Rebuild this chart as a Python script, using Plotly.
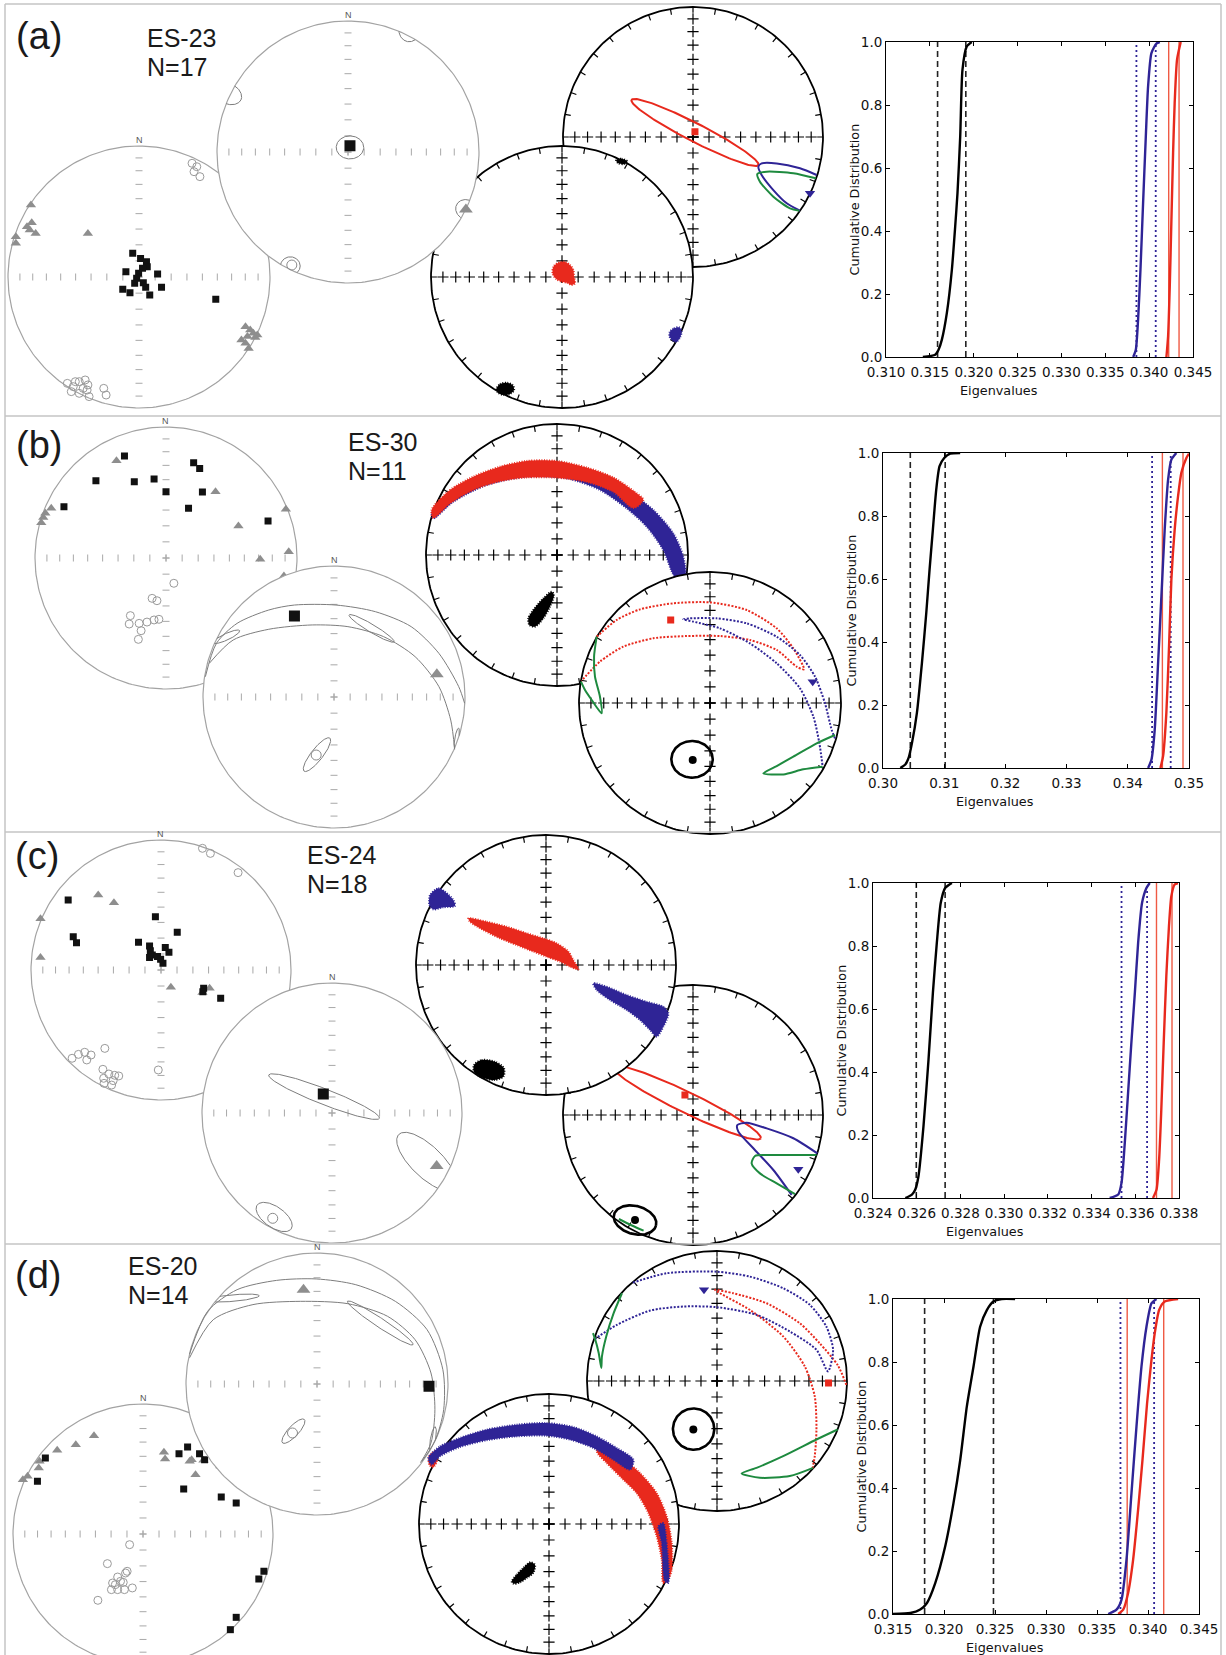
import numpy as np
import plotly.graph_objects as go

W, H = 1226, 1655
SANS = "Liberation Sans, Arial, Helvetica, sans-serif"
MPL = "DejaVu Sans, Verdana, sans-serif"
RED = "#e8291d"
BLUE = "#2f2496"
GREEN = "#1e8a3f"
REDV = "#ef5a44"

# ============================ DATA ============================
panel_tags = ["(a)", "(b)", "(c)", "(d)"]
site_names = ["ES-23", "ES-30", "ES-24", "ES-20"]
site_counts = ["N=17", "N=11", "N=18", "N=14"]

# ---- specimen directions (equal-area, unit radius, x=E, y=N): k1 squares, k2 triangles, k3 circles
a_k1_x = [-0.048, 0.012, 0.057, 0.063, 0.027, -0.003, -0.100, 0.142, -0.018, -0.033, -0.124, -0.069, 0.051, 0.082, 0.172, 0.586, 0.033]
a_k1_y = [0.181, 0.142, 0.117, 0.079, 0.066, 0.028, 0.041, 0.023, -0.010, -0.048, -0.094, -0.120, -0.079, -0.137, -0.079, -0.170, -0.043]
a_k2_x = [-0.825, -0.855, -0.819, -0.789, -0.834, -0.940, -0.940, -0.390, 0.813, 0.849, 0.873, 0.903, 0.828, 0.782, 0.813, 0.837, 0.888]
a_k2_y = [0.550, 0.384, 0.415, 0.333, 0.359, 0.308, 0.257, 0.333, -0.379, -0.405, -0.430, -0.443, -0.455, -0.481, -0.506, -0.545, -0.461]
a_k3_x = [0.405, 0.441, 0.420, 0.465, -0.547, -0.502, -0.456, -0.411, -0.390, -0.426, -0.517, -0.456, -0.381, -0.269, -0.251, -0.396, -0.486]
a_k3_y = [0.868, 0.842, 0.804, 0.766, -0.812, -0.837, -0.799, -0.786, -0.824, -0.850, -0.875, -0.888, -0.913, -0.850, -0.901, -0.863, -0.799]

b_k1_x = [-0.317, 0.211, 0.257, -0.535, -0.242, -0.091, 0.0, 0.278, 0.172, -0.779, 0.779]
b_k1_y = [0.779, 0.728, 0.684, 0.590, 0.583, 0.603, 0.506, 0.504, 0.379, 0.392, 0.282]
b_k2_x = [-0.378, 0.378, -0.876, -0.921, -0.937, -0.952, 0.915, 0.553, 0.937, 0.719, 0.900]
b_k2_y = [0.743, 0.506, 0.379, 0.341, 0.310, 0.270, 0.372, 0.244, 0.048, -0.010, -0.137]
b_k3_x = [0.060, -0.106, -0.069, -0.272, -0.205, -0.145, -0.091, -0.054, -0.190, -0.211, -0.281]
b_k3_y = [-0.193, -0.308, -0.326, -0.440, -0.499, -0.489, -0.473, -0.468, -0.555, -0.621, -0.504]

c_k1_x = [-0.714, -0.675, -0.650, -0.043, 0.125, -0.173, -0.088, -0.082, -0.067, -0.027, 0.033, 0.061, 0.015, -0.003, 0.328, 0.322, 0.459, -0.088]
c_k1_y = [0.538, 0.256, 0.210, 0.410, 0.290, 0.213, 0.185, 0.149, 0.115, 0.103, 0.174, 0.136, 0.051, 0.082, -0.141, -0.167, -0.218, 0.097]
c_k2_x = [-0.483, -0.362, -0.927, -0.927, 0.076, 0.319, 0.374, 0.754, 0.815, 0.915, 0.860, 0.830, 0.906, 0.854, 0.763, 0.702, 0.745, 0.885]
c_k2_y = [0.577, 0.518, 0.395, 0.097, -0.133, -0.174, -0.141, -0.313, -0.333, -0.346, -0.397, -0.474, -0.410, -0.456, -0.610, -0.697, -0.333, -0.379]
c_k3_x = [0.319, 0.380, 0.593, -0.432, -0.684, -0.635, -0.587, -0.571, -0.447, -0.401, -0.441, -0.368, -0.325, -0.380, -0.438, -0.021, -0.538, -0.356]
c_k3_y = [0.936, 0.897, 0.749, -0.603, -0.679, -0.649, -0.633, -0.692, -0.764, -0.800, -0.833, -0.851, -0.815, -0.885, -0.872, -0.769, -0.654, -0.810]

d_k1_x = [-0.751, -0.812, 0.343, 0.277, 0.435, 0.474, 0.587, 0.313, 0.602, 0.717, 0.930, 0.891, 0.717, 0.672]
d_k1_y = [0.585, 0.405, 0.669, 0.618, 0.618, 0.572, 0.533, 0.346, 0.285, 0.238, -0.287, -0.346, -0.641, -0.736]
d_k2_x = [-0.377, -0.517, -0.660, -0.802, -0.888, -0.924, 0.161, 0.170, 0.374, 0.465, 0.678, 0.404, -0.796, 0.359]
d_k2_y = [0.756, 0.687, 0.644, 0.508, 0.444, 0.418, 0.628, 0.577, 0.572, 0.567, 0.618, 0.456, 0.559, 0.559]
d_k3_x = [-0.103, -0.274, -0.195, -0.134, -0.122, -0.234, -0.173, -0.243, -0.195, -0.143, -0.082, -0.347, -0.213, -0.152]
d_k3_y = [-0.082, -0.228, -0.331, -0.300, -0.287, -0.377, -0.364, -0.428, -0.428, -0.428, -0.415, -0.510, -0.390, -0.372]

# ---- mean principal axes (x, y) and confidence ellipses [cx, cy, a, b, azimuth deg]
a_mean_k1, a_mean_k2, a_mean_k3 = [0.015, 0.048], [0.900, -0.438], [-0.429, -0.863]
b_mean_k1, b_mean_k2, b_mean_k3 = [-0.302, 0.618], [0.785, 0.173], [-0.136, -0.443]
c_mean_k1, c_mean_k2, c_mean_k3 = [-0.067, 0.146], [0.805, -0.408], [-0.456, -0.810]
d_mean_k1, d_mean_k2, d_mean_k3 = [0.855, -0.018], [-0.103, 0.720], [-0.187, -0.374]
a_mean_ell = [[0.015, 0.035, 0.105, 0.088, 0], [0.905, -0.44, 0.085, 0.075, -26], [-0.44, -0.87, 0.075, 0.07, 0]]
b_mean_ell = [[-0.13, -0.44, 0.16, 0.045, 52], [-0.82, 0.46, 0.11, 0.025, 25], [0.287, 0.524, 0.2, 0.03, -31], [0.937, -0.316, 0.08, 0.015, 80]]
c_mean_ell = [[-0.061, 0.126, 0.457, 0.06, -21.4], [0.729, -0.374, 0.3, 0.12, -44], [-0.445, -0.80, 0.16, 0.08, -35]]
d_mean_ell = [[-0.18, -0.36, 0.122, 0.04, 47], [-0.64, 0.656, 0.2, 0.025, 5], [0.483, 0.466, 0.3, 0.035, -33.6], [0.885, -0.425, 0.1, 0.02, 80]]
b_arc1_x = [-0.982, -0.897, -0.740, -0.498, -0.302, 0.015, 0.317, 0.589, 0.801, 0.952, 0.997]
b_arc1_y = [0.155, 0.410, 0.562, 0.664, 0.702, 0.702, 0.651, 0.537, 0.333, 0.079, -0.048]
b_arc2_x = [-0.952, -0.770, -0.498, -0.166, 0.106, 0.378, 0.619, 0.801, 0.891, 0.921]
b_arc2_y = [0.257, 0.435, 0.517, 0.550, 0.537, 0.461, 0.308, 0.079, -0.176, -0.400]
d_arc1_x = [-0.973, -0.835, -0.610, -0.308, -0.006, 0.296, 0.598, 0.840, 0.961, 0.967, 0.900, 0.800]
d_arc1_y = [0.228, 0.555, 0.720, 0.791, 0.802, 0.758, 0.631, 0.415, 0.109, -0.196, -0.436, -0.590]
d_arc2_x = [-0.973, -0.792, -0.489, -0.127, 0.236, 0.538, 0.749, 0.870, 0.900, 0.870, 0.790]
d_arc2_y = [0.200, 0.491, 0.606, 0.631, 0.613, 0.517, 0.338, 0.084, -0.196, -0.450, -0.600]

# ---- parametric bootstrap confidence regions
a_ell_red = [0.015, 0.035, 0.548, 0.07, -27.2]
a_ell_blue_x = [0.951, 0.823, 0.644, 0.528, 0.503, 0.528, 0.618, 0.721, 0.823]
a_ell_blue_y = [-0.292, -0.241, -0.203, -0.203, -0.228, -0.292, -0.408, -0.510, -0.567]
a_ell_green_x = [0.945, 0.772, 0.567, 0.495, 0.515, 0.618, 0.746, 0.818]
a_ell_green_y = [-0.318, -0.279, -0.267, -0.285, -0.344, -0.459, -0.549, -0.567]
a_ell_k1, a_ell_k2 = [0.015, 0.041], [0.90, -0.433]

b_ell_red_x = [-0.865, -0.712, -0.534, -0.280, 0.0, 0.280, 0.509, 0.636, 0.718, 0.662, 0.509, 0.305, 0.076, -0.178, -0.433, -0.662, -0.840, -0.980]
b_ell_red_y = [0.506, 0.634, 0.715, 0.761, 0.768, 0.710, 0.570, 0.417, 0.257, 0.277, 0.405, 0.481, 0.511, 0.511, 0.494, 0.430, 0.316, 0.170]
b_ell_blue_x = [0.954, 0.929, 0.878, 0.802, 0.687, 0.509, 0.280, 0.051, -0.153, -0.204, -0.127, 0.076, 0.305, 0.509, 0.687, 0.789, 0.835, 0.860]
b_ell_blue_y = [-0.270, -0.206, -0.003, 0.201, 0.366, 0.506, 0.608, 0.646, 0.646, 0.639, 0.621, 0.570, 0.455, 0.303, 0.112, -0.104, -0.308, -0.486]
b_ell_green1_x = [-0.865, -0.885, -0.878, -0.840, -0.827, -0.903, -0.954, -0.985]
b_ell_green1_y = [0.506, 0.354, 0.201, 0.048, -0.079, 0.023, 0.099, 0.163]
b_ell_green2_x = [0.954, 0.814, 0.636, 0.509, 0.407, 0.560, 0.712, 0.860]
b_ell_green2_y = [-0.244, -0.308, -0.410, -0.481, -0.537, -0.545, -0.506, -0.486]
b_ell_k1, b_ell_k2, b_ell_k3 = [-0.300, 0.634], [0.784, 0.163], [-0.132, -0.435]
b_ell_k3e = [-0.137, -0.430, 0.158, 0.14, 0]

c_ell_red = [-0.046, 0.095, 0.63, 0.08, -25.9]
c_ell_blue_x = [0.956, 0.772, 0.567, 0.413, 0.341, 0.349, 0.464, 0.618, 0.759]
c_ell_blue_y = [-0.295, -0.179, -0.103, -0.059, -0.077, -0.128, -0.256, -0.423, -0.615]
c_ell_green_x = [0.950, 0.567, 0.477, 0.451, 0.515, 0.644, 0.785]
c_ell_green_y = [-0.308, -0.308, -0.315, -0.372, -0.449, -0.526, -0.608]
c_ell_green2_x = [-0.57, -0.47, -0.38]
c_ell_green2_y = [-0.80, -0.85, -0.89]
c_ell_k1, c_ell_k2, c_ell_k3 = [-0.062, 0.154], [0.810, -0.418], [-0.446, -0.808]
c_ell_k3e = [-0.446, -0.808, 0.167, 0.108, -15]

d_ell_red_x = [0.995, 0.93, 0.79, 0.637, 0.381, 0.125, -0.015, 0.023, 0.253, 0.509, 0.675, 0.752, 0.765, 0.752, 0.735]
d_ell_red_y = [-0.03, 0.12, 0.29, 0.444, 0.598, 0.675, 0.701, 0.675, 0.547, 0.343, 0.113, -0.118, -0.373, -0.578, -0.672]
d_ell_blue_x = [-0.647, -0.386, -0.003, 0.253, 0.509, 0.714, 0.841, 0.893, 0.854, 0.765, 0.560, 0.304, -0.003, -0.258, -0.514, -0.770, -0.949]
d_ell_blue_y = [0.757, 0.829, 0.841, 0.803, 0.714, 0.586, 0.419, 0.240, 0.074, 0.240, 0.381, 0.509, 0.568, 0.573, 0.542, 0.432, 0.317]
d_ell_green1_x = [-0.731, -0.795, -0.852, -0.885, -0.890, -0.910, -0.936, -0.954]
d_ell_green1_y = [0.675, 0.522, 0.343, 0.189, 0.100, 0.215, 0.317, 0.368]
d_ell_green2_x = [0.928, 0.765, 0.509, 0.304, 0.189, 0.330, 0.560, 0.739]
d_ell_green2_y = [-0.373, -0.450, -0.578, -0.668, -0.711, -0.744, -0.731, -0.668]
d_ell_k1, d_ell_k2, d_ell_k3 = [0.858, -0.015], [-0.100, 0.701], [-0.182, -0.373]
d_ell_k3e = [-0.18, -0.37, 0.159, 0.159, 0]

# ---- bootstrap eigenvector clouds (outline of each cloud)
a_cloud_red_x = [-0.066, -0.028, 0.023, 0.061, 0.087, 0.092, 0.099, 0.074, 0.036, -0.003, -0.041, -0.071]
a_cloud_red_y = [0.079, 0.109, 0.115, 0.092, 0.053, 0.003, -0.048, -0.061, -0.043, -0.036, -0.018, 0.023]
a_cloud_black_x = [-0.499, -0.473, -0.422, -0.377, -0.366, -0.397, -0.448, -0.489]
a_cloud_black_y = [-0.850, -0.817, -0.807, -0.824, -0.863, -0.893, -0.901, -0.883]
a_cloud_black2_x = [0.412, 0.455, 0.499, 0.481, 0.430]
a_cloud_black2_y = [0.893, 0.903, 0.883, 0.863, 0.868]
a_cloud_blue_x = [0.824, 0.855, 0.896, 0.913, 0.901, 0.875, 0.845, 0.819]
a_cloud_blue_y = [-0.417, -0.392, -0.384, -0.417, -0.461, -0.494, -0.486, -0.450]

b_cloud_red_x = [-0.957, -0.817, -0.639, -0.435, -0.232, -0.003, 0.226, 0.430, 0.583, 0.659, 0.583, 0.430, 0.226, -0.003, -0.232, -0.435, -0.639, -0.817, -0.944]
b_cloud_red_y = [0.344, 0.496, 0.598, 0.674, 0.718, 0.718, 0.668, 0.592, 0.490, 0.420, 0.358, 0.482, 0.558, 0.590, 0.592, 0.563, 0.497, 0.394, 0.282]
b_cloud_blue_x = [-0.957, -0.791, -0.562, -0.308, -0.003, 0.277, 0.532, 0.735, 0.888, 0.964, 0.977, 0.901, 0.812, 0.684, 0.532, 0.328, 0.074, -0.232, -0.537, -0.791, -0.944]
b_cloud_blue_y = [0.318, 0.496, 0.611, 0.674, 0.700, 0.636, 0.496, 0.344, 0.165, -0.013, -0.165, -0.165, 0.038, 0.216, 0.356, 0.496, 0.585, 0.598, 0.534, 0.407, 0.280]
b_cloud_black_x = [-0.219, -0.181, -0.104, -0.041, -0.023, -0.053, -0.104, -0.168, -0.211]
b_cloud_black_y = [-0.483, -0.420, -0.331, -0.280, -0.305, -0.394, -0.483, -0.547, -0.534]

c_cloud_blue1_x = [-0.892, -0.828, -0.777, -0.713, -0.700, -0.790, -0.867, -0.897]
c_cloud_blue1_y = [0.538, 0.590, 0.564, 0.500, 0.454, 0.444, 0.428, 0.462]
c_cloud_red_x = [-0.597, -0.456, -0.303, -0.149, -0.021, 0.082, 0.172, 0.210, 0.249, 0.185, 0.108, 0.005, -0.097, -0.226, -0.354, -0.482, -0.585]
c_cloud_red_y = [0.359, 0.333, 0.295, 0.244, 0.205, 0.167, 0.103, 0.038, -0.033, -0.013, 0.026, 0.064, 0.103, 0.154, 0.205, 0.269, 0.333]
c_cloud_blue2_x = [0.364, 0.467, 0.621, 0.774, 0.903, 0.941, 0.903, 0.851, 0.800, 0.723, 0.621, 0.492, 0.390]
c_cloud_blue2_y = [-0.141, -0.167, -0.231, -0.282, -0.321, -0.372, -0.474, -0.551, -0.500, -0.423, -0.346, -0.269, -0.192]
c_cloud_black_x = [-0.554, -0.495, -0.392, -0.323, -0.328, -0.405, -0.495, -0.554]
c_cloud_black_y = [-0.769, -0.731, -0.744, -0.795, -0.859, -0.885, -0.864, -0.821]

d_cloud_red_x = [0.392, 0.546, 0.700, 0.828, 0.905, 0.944, 0.944, 0.918, 0.879, 0.867, 0.828, 0.764, 0.674, 0.572, 0.444, 0.367]
d_cloud_red_y = [0.623, 0.521, 0.392, 0.238, 0.059, -0.146, -0.351, -0.428, -0.454, -0.274, -0.095, 0.085, 0.238, 0.341, 0.469, 0.559]
d_cloud_red2_x = [-0.921, -0.877, -0.859, -0.890, -0.921]
d_cloud_red2_y = [0.521, 0.559, 0.495, 0.438, 0.456]
d_cloud_blue_x = [-0.928, -0.838, -0.685, -0.479, -0.249, -0.018, 0.187, 0.367, 0.521, 0.649, 0.623, 0.495, 0.341, 0.162, -0.018, -0.249, -0.479, -0.685, -0.838, -0.903]
d_cloud_blue_y = [0.508, 0.597, 0.662, 0.726, 0.764, 0.777, 0.746, 0.674, 0.585, 0.495, 0.418, 0.495, 0.585, 0.649, 0.679, 0.674, 0.644, 0.592, 0.521, 0.456]
d_cloud_blue2_x = [0.879, 0.905, 0.918, 0.892, 0.867, 0.842]
d_cloud_blue2_y = [0.008, -0.146, -0.454, -0.441, -0.146, -0.018]
d_cloud_black_x = [-0.287, -0.249, -0.197, -0.146, -0.108, -0.121, -0.172, -0.223, -0.274]
d_cloud_black_y = [-0.441, -0.390, -0.338, -0.295, -0.313, -0.377, -0.415, -0.449, -0.459]

# ---- cumulative distributions of bootstrapped eigenvalues
cdf_y_ticks = [0.0, 0.2, 0.4, 0.6, 0.8, 1.0]
cdf_y_text = ["0.0", "0.2", "0.4", "0.6", "0.8", "1.0"]

cdf_a_ticks = [0.310, 0.315, 0.320, 0.325, 0.330, 0.335, 0.340, 0.345]
cdf_a_text = ["0.310", "0.315", "0.320", "0.325", "0.330", "0.335", "0.340", "0.345"]
cdf_a_min_x = [0.3142, 0.31561, 0.31599, 0.31637, 0.31694, 0.31751, 0.31789, 0.31815, 0.31846, 0.31872, 0.31921, 0.31978]
cdf_a_min_y = [0.0, 0.007, 0.023, 0.055, 0.14, 0.277, 0.415, 0.52, 0.70, 0.912, 0.986, 1.0]
cdf_a_int_x = [0.33818, 0.33848, 0.33874, 0.33901, 0.33931, 0.33962, 0.33988, 0.34026, 0.34083, 0.34121]
cdf_a_int_y = [0.0, 0.023, 0.119, 0.277, 0.489, 0.70, 0.859, 0.965, 0.995, 1.0]
cdf_a_max_x = [0.34197, 0.34216, 0.34235, 0.34254, 0.34273, 0.34291, 0.34318, 0.34360]
cdf_a_max_y = [0.0, 0.066, 0.224, 0.436, 0.648, 0.806, 0.944, 1.0]
cdf_a_bounds = [[0.31588, 0.31910], [0.33855, 0.34075], [0.34223, 0.34341]]

cdf_b_ticks = [0.30, 0.31, 0.32, 0.33, 0.34, 0.35]
cdf_b_text = ["0.30", "0.31", "0.32", "0.33", "0.34", "0.35"]
cdf_b_min_x = [0.30283, 0.30364, 0.30418, 0.30473, 0.30554, 0.30636, 0.30707, 0.30761, 0.30815, 0.30870, 0.30924, 0.31000, 0.31098, 0.31261]
cdf_b_min_y = [0.0, 0.011, 0.032, 0.079, 0.175, 0.333, 0.492, 0.63, 0.757, 0.884, 0.958, 0.984, 0.998, 1.0]
cdf_b_int_x = [0.34332, 0.34386, 0.34440, 0.34495, 0.34549, 0.34603, 0.34658, 0.34712, 0.34793]
cdf_b_int_y = [0.0, 0.026, 0.122, 0.333, 0.545, 0.757, 0.915, 0.979, 1.0]
cdf_b_max_x = [0.34533, 0.34576, 0.34630, 0.34674, 0.34712, 0.34766, 0.34821, 0.34875, 0.34957, 0.35]
cdf_b_max_y = [0.0, 0.037, 0.175, 0.386, 0.598, 0.757, 0.862, 0.937, 0.984, 0.998]
cdf_b_bounds = [[0.30446, 0.31016], [0.34397, 0.34701], [0.34565, 0.34902]]

cdf_c_ticks = [0.324, 0.326, 0.328, 0.330, 0.332, 0.334, 0.336, 0.338]
cdf_c_text = ["0.324", "0.326", "0.328", "0.330", "0.332", "0.334", "0.336", "0.338"]
cdf_c_min_x = [0.32548, 0.32578, 0.32593, 0.32608, 0.32631, 0.32654, 0.32674, 0.32692, 0.32710, 0.32730, 0.32761]
cdf_c_min_y = [0.0, 0.011, 0.026, 0.069, 0.228, 0.439, 0.651, 0.810, 0.937, 0.984, 1.0]
cdf_c_int_x = [0.33483, 0.33522, 0.33537, 0.33552, 0.33567, 0.33582, 0.33598, 0.33613, 0.33631, 0.33651, 0.33666]
cdf_c_int_y = [0.0, 0.011, 0.048, 0.175, 0.333, 0.492, 0.651, 0.810, 0.937, 0.984, 1.0]
cdf_c_max_x = [0.33681, 0.33697, 0.33709, 0.33719, 0.33730, 0.33742, 0.33754, 0.33765, 0.33780, 0.33795]
cdf_c_max_y = [0.0, 0.026, 0.122, 0.280, 0.492, 0.704, 0.862, 0.958, 0.995, 1.0]
cdf_c_bounds = [[0.32598, 0.32730], [0.33537, 0.33654], [0.33697, 0.33768]]

cdf_d_ticks = [0.315, 0.320, 0.325, 0.330, 0.335, 0.340, 0.345]
cdf_d_text = ["0.315", "0.320", "0.325", "0.330", "0.335", "0.340", "0.345"]
cdf_d_min_x = [0.3150, 0.31670, 0.31767, 0.31833, 0.31914, 0.32012, 0.32093, 0.32159, 0.32224, 0.32289, 0.32354, 0.32420, 0.32485, 0.32566, 0.32697]
cdf_d_min_y = [0.0, 0.003, 0.014, 0.035, 0.098, 0.215, 0.352, 0.489, 0.659, 0.785, 0.912, 0.965, 0.992, 1.0, 1.0]
cdf_d_int_x = [0.33610, 0.33691, 0.33740, 0.33789, 0.33838, 0.33887, 0.33936, 0.33985, 0.34034, 0.34083]
cdf_d_int_y = [0.0, 0.014, 0.045, 0.172, 0.384, 0.595, 0.785, 0.912, 0.986, 1.0]
cdf_d_max_x = [0.33708, 0.33757, 0.33805, 0.33854, 0.33903, 0.33946, 0.33991, 0.34034, 0.34066, 0.34109, 0.34164, 0.34295]
cdf_d_max_y = [0.0, 0.014, 0.067, 0.172, 0.331, 0.489, 0.669, 0.807, 0.891, 0.965, 0.992, 1.0]
cdf_d_bounds = [[0.31810, 0.32485], [0.33730, 0.34060], [0.33796, 0.34154]]

# ============================ DRAWING ============================
fig = go.Figure()
axes = {}
annots = []


def tr(n, x, y, **kw):
    fig.add_trace(go.Scatter(x=list(x), y=list(y), xaxis=f"x{n}", yaxis=f"y{n}",
                             hoverinfo="skip", showlegend=False, **kw))


def net_axes(n, cx, cy, R, pad=1.12):
    x0, x1 = max(cx - pad * R, 0.0), min(cx + pad * R, float(W))
    y0, y1 = max(cy - pad * R, 0.0), min(cy + pad * R, float(H))
    common = dict(visible=False, fixedrange=True, showgrid=False, zeroline=False)
    axes[f"xaxis{n}"] = dict(domain=[x0 / W, x1 / W], range=[(x0 - cx) / R, (x1 - cx) / R], anchor=f"y{n}", **common)
    axes[f"yaxis{n}"] = dict(domain=[1 - y1 / H, 1 - y0 / H], range=[(cy - y1) / R, (cy - y0) / R], anchor=f"x{n}", **common)


TH = np.linspace(0, 2 * np.pi, 241)
CXS, CYS = np.cos(TH), np.sin(TH)
RT = [float(np.sqrt(1 - np.sin(np.radians(i)))) for i in range(10, 91, 10)]
ARM = [-r for r in RT] + RT
ZERO = [0.0] * len(ARM)
RIMX, RIMY = [], []
for dd in range(0, 360, 10):
    s, c = np.sin(np.radians(dd)), np.cos(np.radians(dd))
    RIMX += [s, 0.955 * s, None]
    RIMY += [c, 0.955 * c, None]


def ellipse(cx, cy, a, b, ang, npts=181):
    t = np.linspace(0, 2 * np.pi, npts)
    ca, sa = np.cos(np.radians(ang)), np.sin(np.radians(ang))
    ex, ey = a * np.cos(t), b * np.sin(t)
    return cx + ex * ca - ey * sa, cy + ex * sa + ey * ca


def rim_fold(x, y, mode):
    xs, ys, prev = [], [], None
    for xi, yi in zip(x, y):
        r = float(np.hypot(xi, yi))
        inside = r <= 1.0
        if prev is not None and inside != prev:
            xs.append(None)
            ys.append(None)
        if inside:
            xs.append(float(xi)); ys.append(float(yi))
        elif mode == "wrap":
            f = (2.0 - r) / r
            xs.append(float(-xi * f)); ys.append(float(-yi * f))
        prev = inside
    return xs, ys


def gray_frame(n):
    tr(n, CXS, CYS, mode="lines", fill="toself", fillcolor="white", line=dict(color="#a3a3a3", width=1.2))
    tr(n, ARM, ZERO, mode="markers", marker=dict(symbol="line-ns", size=5, line=dict(width=1, color="#a8a8a8")))
    tr(n, ZERO, ARM, mode="markers", marker=dict(symbol="line-ew", size=5, line=dict(width=1, color="#a8a8a8")))
    annots.append(dict(x=0, y=1.045, xref=f"x{n}", yref=f"y{n}", text="N", showarrow=False,
                       font=dict(family=SANS, size=9, color="#555555"), yanchor="middle"))


def black_frame(n):
    tr(n, CXS, CYS, mode="lines", fill="toself", fillcolor="white", line=dict(color="black", width=1.8))
    tr(n, RIMX, RIMY, mode="lines", line=dict(color="black", width=1.2))
    tr(n, ARM + ZERO, ZERO + ARM, mode="markers",
       marker=dict(symbol="cross-thin", size=8, line=dict(width=1.2, color="black")))


def draw_data(n, k1x, k1y, k2x, k2y, k3x, k3y):
    gray_frame(n)
    tr(n, k3x, k3y, mode="markers", marker=dict(symbol="circle-open", size=8, color="#9a9a9a", line=dict(width=1)))
    tr(n, k2x, k2y, mode="markers", marker=dict(symbol="triangle-up", size=9, color="#8e8e8e"))
    tr(n, k1x, k1y, mode="markers", marker=dict(symbol="square", size=7, color="#111111"))


def draw_mean(n, k1, k2, k3, ells, arcs, mode):
    gray_frame(n)
    for e in ells:
        x, y = rim_fold(*ellipse(*e), mode)
        tr(n, x, y, mode="lines", line=dict(color="#7d7d7d", width=1))
    for ax_, ay_ in arcs:
        tr(n, ax_, ay_, mode="lines", line=dict(color="#7d7d7d", width=1, shape="spline", smoothing=0.8))
    tr(n, [k3[0]], [k3[1]], mode="markers", marker=dict(symbol="circle-open", size=10, color="#8a8a8a", line=dict(width=1)))
    tr(n, [k2[0]], [k2[1]], mode="markers", marker=dict(symbol="triangle-up", size=12, color="#8e8e8e"))
    tr(n, [k1[0]], [k1[1]], mode="markers", marker=dict(symbol="square", size=11, color="#111111"))


def draw_ell(n, ells, lines, k1, k2, k3=None, k3e=None):
    black_frame(n)
    for p, col in ells:
        x, y = ellipse(*p)
        tr(n, x, y, mode="lines", line=dict(color=col, width=2))
    for x, y, col, dash in lines:
        tr(n, x, y, mode="lines", line=dict(color=col, width=2, dash=dash, shape="spline", smoothing=0.7))
    if k3e is not None:
        x, y = ellipse(*k3e)
        tr(n, x, y, mode="lines", line=dict(color="black", width=2.6))
    if k3 is not None:
        tr(n, [k3[0]], [k3[1]], mode="markers", marker=dict(symbol="circle", size=8, color="black"))
    tr(n, [k2[0]], [k2[1]], mode="markers", marker=dict(symbol="triangle-down", size=9, color=BLUE))
    tr(n, [k1[0]], [k1[1]], mode="markers", marker=dict(symbol="square", size=7, color=RED))


def draw_cloud(n, polys):
    black_frame(n)
    for x, y, col in polys:
        tr(n, list(x) + [x[0]], list(y) + [y[0]], mode="lines", fill="toself", fillcolor=col,
           line=dict(color=col, width=2, dash="1px,1.5px", shape="spline", smoothing=0.8))


DOT = "2px,1.6px"

# ---------------- panel (a)
net_axes(11, 693, 137, 130)
draw_ell(11, [(a_ell_red, RED)],
         [(a_ell_blue_x, a_ell_blue_y, BLUE, "solid"), (a_ell_green_x, a_ell_green_y, GREEN, "solid")],
         a_ell_k1, a_ell_k2)
net_axes(12, 562, 277, 131)
draw_cloud(12, [(a_cloud_black_x, a_cloud_black_y, "black"), (a_cloud_black2_x, a_cloud_black2_y, "black"),
                (a_cloud_blue_x, a_cloud_blue_y, BLUE), (a_cloud_red_x, a_cloud_red_y, RED)])
net_axes(13, 139, 277, 131)
draw_data(13, a_k1_x, a_k1_y, a_k2_x, a_k2_y, a_k3_x, a_k3_y)
net_axes(14, 348, 152, 131)
draw_mean(14, a_mean_k1, a_mean_k2, a_mean_k3, a_mean_ell, [], "wrap")

# ---------------- panel (b)
net_axes(15, 557, 555, 131)
draw_cloud(15, [(b_cloud_blue_x, b_cloud_blue_y, BLUE), (b_cloud_red_x, b_cloud_red_y, RED),
                (b_cloud_black_x, b_cloud_black_y, "black")])
net_axes(16, 710, 703, 131)
draw_ell(16, [], [(b_ell_red_x, b_ell_red_y, RED, DOT), (b_ell_blue_x, b_ell_blue_y, BLUE, DOT),
                  (b_ell_green1_x, b_ell_green1_y, GREEN, "solid"), (b_ell_green2_x, b_ell_green2_y, GREEN, "solid")],
         b_ell_k1, b_ell_k2, b_ell_k3, b_ell_k3e)
net_axes(17, 166, 558, 131)
draw_data(17, b_k1_x, b_k1_y, b_k2_x, b_k2_y, b_k3_x, b_k3_y)
net_axes(18, 334, 697, 131)
draw_mean(18, b_mean_k1, b_mean_k2, b_mean_k3, b_mean_ell, [(b_arc1_x, b_arc1_y), (b_arc2_x, b_arc2_y)], "clip")

# ---------------- panel (c)
net_axes(19, 693, 1115, 130)
draw_ell(19, [(c_ell_red, RED)],
         [(c_ell_blue_x, c_ell_blue_y, BLUE, "solid"), (c_ell_green_x, c_ell_green_y, GREEN, "solid"),
          (c_ell_green2_x, c_ell_green2_y, GREEN, "solid")],
         c_ell_k1, c_ell_k2, c_ell_k3, c_ell_k3e)
net_axes(20, 546, 965, 130)
draw_cloud(20, [(c_cloud_blue1_x, c_cloud_blue1_y, BLUE), (c_cloud_red_x, c_cloud_red_y, RED),
                (c_cloud_blue2_x, c_cloud_blue2_y, BLUE), (c_cloud_black_x, c_cloud_black_y, "black")])
net_axes(21, 161, 970, 130)
draw_data(21, c_k1_x, c_k1_y, c_k2_x, c_k2_y, c_k3_x, c_k3_y)
net_axes(22, 332, 1113, 130)
draw_mean(22, c_mean_k1, c_mean_k2, c_mean_k3, c_mean_ell, [], "clip")

# ---------------- panel (d)
net_axes(23, 717, 1381, 130)
draw_ell(23, [], [(d_ell_red_x, d_ell_red_y, RED, DOT), (d_ell_blue_x, d_ell_blue_y, BLUE, DOT),
                  (d_ell_green1_x, d_ell_green1_y, GREEN, "solid"), (d_ell_green2_x, d_ell_green2_y, GREEN, "solid")],
         d_ell_k1, d_ell_k2, d_ell_k3, d_ell_k3e)
net_axes(24, 549, 1524, 130)
draw_cloud(24, [(d_cloud_red_x, d_cloud_red_y, RED), (d_cloud_red2_x, d_cloud_red2_y, RED),
                (d_cloud_blue_x, d_cloud_blue_y, BLUE), (d_cloud_blue2_x, d_cloud_blue2_y, BLUE),
                (d_cloud_black_x, d_cloud_black_y, "black")])
net_axes(25, 143, 1534, 130)
draw_data(25, d_k1_x, d_k1_y, d_k2_x, d_k2_y, d_k3_x, d_k3_y)
net_axes(26, 317, 1384, 131)
draw_mean(26, d_mean_k1, d_mean_k2, d_mean_k3, d_mean_ell, [(d_arc1_x, d_arc1_y), (d_arc2_x, d_arc2_y)], "clip")


# ---------------- CDF panels
def add_cdf(n, box, xr, xtv, xtt, curves, bounds):
    x0, y0, x1, y1 = box
    eps = (xr[1] - xr[0]) * 1e-6
    base = dict(showline=True, mirror="ticks", linecolor="black", linewidth=1, ticks="inside", ticklen=4,
                tickwidth=1, tickcolor="black", showgrid=False, zeroline=False, fixedrange=True, automargin=False,
                tickfont=dict(family=MPL, size=13.5, color="#111111"))
    axes[f"xaxis{n}"] = dict(domain=[x0 / W, x1 / W], range=[xr[0] - eps, xr[1] + eps], anchor=f"y{n}",
                             tickvals=xtv, ticktext=xtt, ticklabelstandoff=3, **base)
    axes[f"yaxis{n}"] = dict(domain=[1 - y1 / H, 1 - y0 / H], range=[-1e-6, 1 + 1e-6], anchor=f"x{n}",
                             tickvals=cdf_y_ticks, ticktext=cdf_y_text, **base)
    styles = [("#222222", "6px,4px", 1.6), (BLUE, "2px,3px", 1.8), (REDV, "solid", 1.4)]
    for (lo, hi), (col, dash, w) in zip(bounds, styles):
        for v in (lo, hi):
            tr(n, [v, v], [0, 1], mode="lines", line=dict(color=col, dash=dash, width=w))
    for (x, y), col in zip(curves, ["black", BLUE, RED]):
        tr(n, x, y, mode="lines", line=dict(color=col, width=2.4, shape="spline", smoothing=0.6))
    annots.append(dict(x=(x0 + x1) / 2 / W, y=1 - (y1 + 33) / H, xref="paper", yref="paper", text="Eigenvalues",
                       showarrow=False, font=dict(family=MPL, size=12.8, color="#111111"), yanchor="middle"))
    annots.append(dict(x=(x0 - 32) / W, y=1 - (y0 + y1) / 2 / H, xref="paper", yref="paper",
                       text="Cumulative Distribution", textangle=-90, showarrow=False,
                       font=dict(family=MPL, size=12.8, color="#111111"), xanchor="center", yanchor="middle"))


add_cdf(2, (886, 42, 1193, 357), [0.310, 0.345], cdf_a_ticks, cdf_a_text,
        [(cdf_a_min_x, cdf_a_min_y), (cdf_a_int_x, cdf_a_int_y), (cdf_a_max_x, cdf_a_max_y)], cdf_a_bounds)
add_cdf(3, (883, 453, 1189, 768), [0.30, 0.35], cdf_b_ticks, cdf_b_text,
        [(cdf_b_min_x, cdf_b_min_y), (cdf_b_int_x, cdf_b_int_y), (cdf_b_max_x, cdf_b_max_y)], cdf_b_bounds)
add_cdf(4, (873, 883, 1179, 1198), [0.324, 0.338], cdf_c_ticks, cdf_c_text,
        [(cdf_c_min_x, cdf_c_min_y), (cdf_c_int_x, cdf_c_int_y), (cdf_c_max_x, cdf_c_max_y)], cdf_c_bounds)
add_cdf(5, (893, 1299, 1199, 1614), [0.315, 0.345], cdf_d_ticks, cdf_d_text,
        [(cdf_d_min_x, cdf_d_min_y), (cdf_d_int_x, cdf_d_int_y), (cdf_d_max_x, cdf_d_max_y)], cdf_d_bounds)

# ---------------- panel labels
tag_pos = [(14, 36), (14, 445), (13, 856), (13, 1275)]
name_pos = [(145, 38, 67), (346, 442, 471), (305, 855, 884), (126, 1266, 1295)]
for tag, (tx, ty), nm, cnt, (nx, ny1, ny2) in zip(panel_tags, tag_pos, site_names, site_counts, name_pos):
    annots.append(dict(x=tx / W, y=1 - ty / H, xref="paper", yref="paper", text=tag, showarrow=False,
                       xanchor="left", yanchor="middle", font=dict(family=SANS, size=38, color="#1a1a1a")))
    annots.append(dict(x=nx / W, y=1 - ny1 / H, xref="paper", yref="paper", text=nm, showarrow=False,
                       xanchor="left", yanchor="middle", font=dict(family=SANS, size=25, color="#1a1a1a")))
    annots.append(dict(x=nx / W, y=1 - ny2 / H, xref="paper", yref="paper", text=cnt, showarrow=False,
                       xanchor="left", yanchor="middle", font=dict(family=SANS, size=25, color="#1a1a1a")))

# ---------------- panel frames
shapes = []
for yy in (4, 416, 832, 1244):
    shapes.append(dict(type="line", xref="paper", yref="paper", x0=5 / W, x1=1221 / W, y0=1 - yy / H, y1=1 - yy / H,
                       line=dict(color="#c4c4c4", width=1.5), layer="above"))
for xx in (5, 1221):
    shapes.append(dict(type="line", xref="paper", yref="paper", x0=xx / W, x1=xx / W, y0=0, y1=1 - 4 / H,
                       line=dict(color="#c4c4c4", width=1.5), layer="above"))

fig.update_layout(width=W, height=H, autosize=False,
                  margin=dict(l=0, r=0, t=0, b=0, pad=0, autoexpand=False),
                  paper_bgcolor="white", plot_bgcolor="rgba(0,0,0,0)", showlegend=False,
                  xaxis=dict(visible=False), yaxis=dict(visible=False),
                  annotations=annots, shapes=shapes, **axes)
fig.write_html("out.html", config={"displayModeBar": False},
               post_script="document.body.style.margin='0';document.body.style.overflow='hidden';")
